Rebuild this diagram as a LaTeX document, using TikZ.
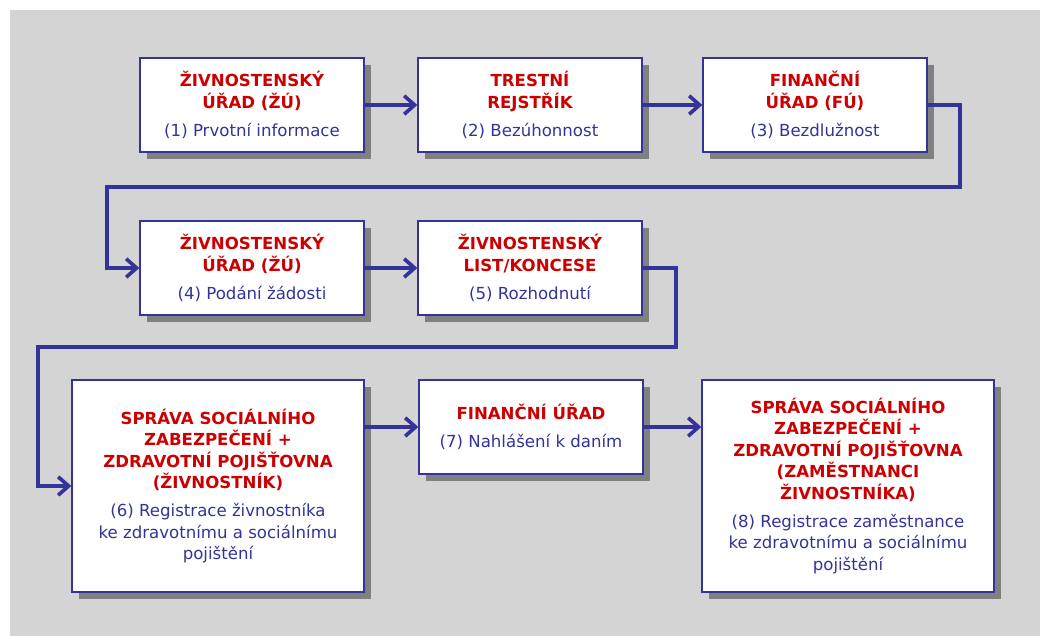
\documentclass[tikz,border=0pt]{standalone}
\usepackage{fontspec}
\setmainfont{DejaVu Sans}
\usetikzlibrary{arrows.meta,shadows,positioning}
\definecolor{panelgray}{RGB}{212,212,212}
\definecolor{shadowgray}{RGB}{128,128,128}
\definecolor{titlered}{RGB}{204,0,0}
\definecolor{linkblue}{RGB}{51,51,153}
\newcommand{\ttl}[1]{\textcolor{titlered}{\bfseries #1}}

\begin{document}
\begin{tikzpicture}[x=0.025cm,y=-0.025cm,
office/.style = {draw=linkblue, line width=0.9pt, fill=white, text=linkblue, align=center,
  font=\fontsize{11.8}{15.3}\selectfont, minimum width=5.6cm, minimum height=2.35cm, inner sep=0pt,
  drop shadow={shadow xshift=0.175cm, shadow yshift=-0.175cm, fill=shadowgray, opacity=1}},
bigoffice/.style = {office, minimum width=7.3cm, minimum height=5.3cm},
link/.style = {draw=linkblue, line width=2.6pt, -{Straight Barb[length=2.6mm,width=4.6mm]}},]
\useasboundingbox (0,0) rectangle (1040,636);
\fill[panelgray] (10,10) rectangle (1040,636);
\node (zu1) at (252,105)[office] {\ttl{ŽIVNOSTENSKÝ}\\ \ttl{ÚŘAD (ŽÚ)}\\[4.6pt] (1) Prvotní informace};
\node (rt) at (530,105)[office] {\ttl{TRESTNÍ}\\ \ttl{REJSTŘÍK}\\[4.6pt] (2) Bezúhonnost};
\node (fu1) at (815,105)[office] {\ttl{FINANČNÍ}\\ \ttl{ÚŘAD (FÚ)}\\[4.6pt] (3) Bezdlužnost};
\node (zu2) at (252,268)[office] {\ttl{ŽIVNOSTENSKÝ}\\ \ttl{ÚŘAD (ŽÚ)}\\[4.6pt] (4) Podání žádosti};
\node (list) at (530,268)[office] {\ttl{ŽIVNOSTENSKÝ}\\ \ttl{LIST/KONCESE}\\[4.6pt] (5) Rozhodnutí};
\node (ssz1) at (218,486)[bigoffice] {\ttl{SPRÁVA SOCIÁLNÍHO}\\ \ttl{ZABEZPEČENÍ +}\\ \ttl{ZDRAVOTNÍ POJIŠŤOVNA}\\ \ttl{(ŽIVNOSTNÍK)}\\[4.6pt] (6) Registrace živnostníka\\ ke zdravotnímu a sociálnímu\\ pojištění};
\node (fu2) at (531,427)[office] {\ttl{FINANČNÍ ÚŘAD}\\[4.6pt] (7) Nahlášení k daním};
\node (ssz2) at (848,486)[bigoffice] {\ttl{SPRÁVA SOCIÁLNÍHO}\\ \ttl{ZABEZPEČENÍ +}\\ \ttl{ZDRAVOTNÍ POJIŠŤOVNA}\\ \ttl{(ZAMĚSTNANCI}\\ \ttl{ŽIVNOSTNÍKA)}\\[4.6pt] (8) Registrace zaměstnance\\ ke zdravotnímu a sociálnímu\\ pojištění};
\coordinate (t1) at (960,187);
\coordinate (t2) at (107,187);
\coordinate (t3) at (676,347);
\coordinate (t4) at (38,347);
\draw[link] (zu1)--(rt);
\draw[link] (rt)--(fu1);
\draw[link] (fu1.east) -| (t1) -- (t2) |- (zu2);
\draw[link] (zu2)--(list);
\draw[link] (list.east) -| (t3) -- (t4) |- (ssz1);
\draw[link] (ssz1.east |- fu2)--(fu2);
\draw[link] (fu2)--(fu2 -| ssz2.west);
\end{tikzpicture}
\end{document}
